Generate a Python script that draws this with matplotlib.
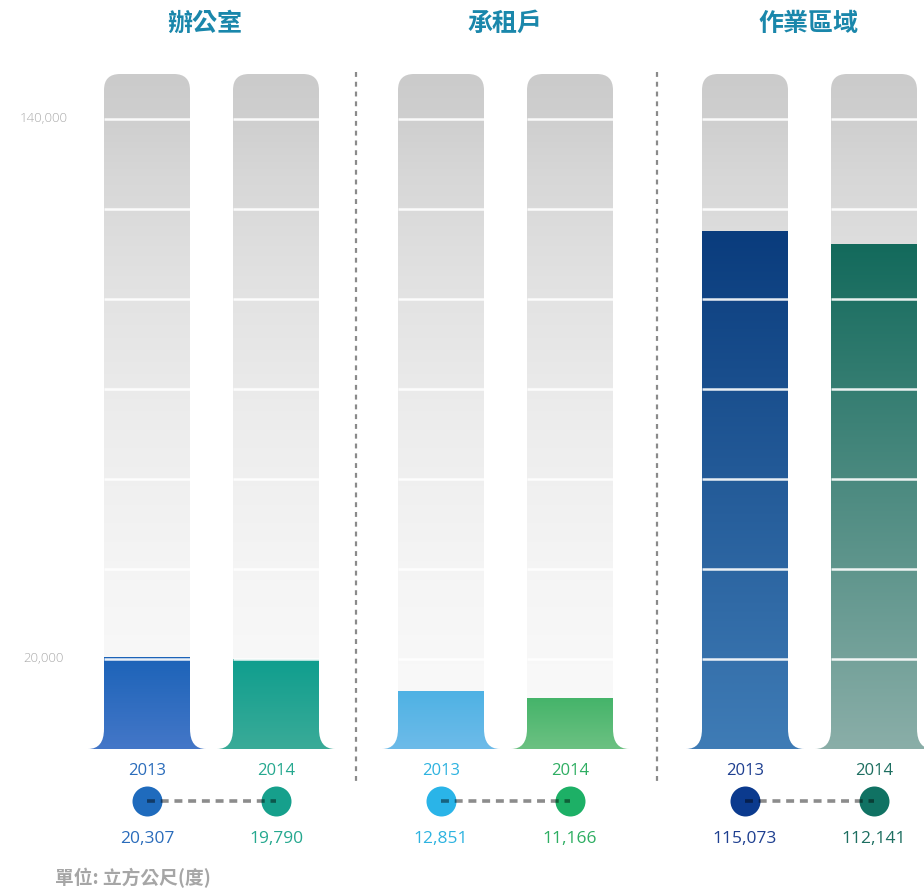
import numpy as np
import matplotlib
matplotlib.use("Agg")
import matplotlib.pyplot as plt
from matplotlib.path import Path
from matplotlib.patches import PathPatch
from matplotlib.colors import LinearSegmentedColormap

plt.rcParams['font.family'] = ['Noto Sans CJK TC', 'DejaVu Sans']

# ---- data ----
groups = ["辦公室", "承租戶", "作業區域"]
years = ["2013", "2014"]
values_2013 = [20307, 12851, 115073]
values_2014 = [19790, 11166, 112141]
axis_ticks = [140000, 20000]
unit_label = "單位: 立方公尺(度)"

# ---- styling ----
title_color = "#1a87ab"
bar_top = [["#1c63b8", "#0f9e8e"], ["#4fb2e4", "#45b46a"], ["#0a3c7d", "#136a5c"]]
bar_bot = [["#4477c8", "#3aab98"], ["#6dbbe9", "#6cc182"], ["#3f7cb6", "#8aaea8"]]
dot_col = [["#1f6bbd", "#16a08c"], ["#2ab4e8", "#1db066"], ["#0b3a8e", "#107263"]]
text_col = [["#2a6cbb", "#25a88f"], ["#2eb3e0", "#2eae62"], ["#1e3f90", "#1d6e60"]]
num_font = ["Open Sans", "DejaVu Sans"]

W, H = 924, 893
fig = plt.figure(figsize=(W / 100, H / 100), dpi=100)
ax = fig.add_axes([0, 0, 1, 1])
ax.set_axis_off()

# vertical scale: zero at pixel row 749, 140,000 at row 119
vpp = 140000 / 630.0          # value per pixel
y_bottom = -(H - 749) * vpp
y_top = 749 * vpp

tube_max = 150000
bar_w = 86
flare_w, flare_h = 16, 20 * vpp
rad_x, rad_y = 16, 16 * vpp
centers = [[147, 276], [441, 570], [745, 874]]
group_centers = [205, 505, 808]


def tube_path(xc, top):
    x0, x1 = xc - bar_w / 2, xc + bar_w / 2
    verts = [
        (x0 - flare_w, 0), (x0, 0), (x0, flare_h),
        (x0, top - rad_y), (x0, top), (x0 + rad_x, top),
        (x1 - rad_x, top), (x1, top), (x1, top - rad_y),
        (x1, flare_h), (x1, 0), (x1 + flare_w, 0),
        (x0 - flare_w, 0),
    ]
    codes = [Path.MOVETO, Path.CURVE3, Path.CURVE3,
             Path.LINETO, Path.CURVE3, Path.CURVE3,
             Path.LINETO, Path.CURVE3, Path.CURVE3,
             Path.LINETO, Path.CURVE3, Path.CURVE3,
             Path.CLOSEPOLY]
    return Path(verts, codes)


gray_cmap = LinearSegmentedColormap.from_list(
    "tube", [(0.0, "#fbfbfb"), (0.25, "#f5f5f5"), (0.5, "#ececec"),
             (0.7, "#e1e1e1"), (0.85, "#d7d7d7"), (0.93, "#cfcfcf"),
             (1.0, "#cbcbcb")])
grad = np.linspace(0, 1, 256).reshape(-1, 1)

all_vals = [values_2013, values_2014]
for g in range(3):
    for k in range(2):
        xc = centers[g][k]
        val = all_vals[k][g]
        patch = PathPatch(tube_path(xc, tube_max), facecolor="none",
                          edgecolor="none", transform=ax.transData)
        ax.add_patch(patch)
        ext_x = (xc - bar_w / 2 - flare_w, xc + bar_w / 2 + flare_w)
        im = ax.imshow(grad, extent=(*ext_x, 0, tube_max), origin="lower",
                       cmap=gray_cmap, aspect="auto",
                       interpolation="bilinear", zorder=1)
        im.set_clip_path(patch)
        # filled portion up to the value
        cmap = LinearSegmentedColormap.from_list(
            "fill", [bar_bot[g][k], bar_top[g][k]])
        im2 = ax.imshow(grad, extent=(*ext_x, 0, val), origin="lower",
                        cmap=cmap, aspect="auto",
                        interpolation="bilinear", zorder=2)
        im2.set_clip_path(patch)
        # white scale lines across the tube
        for yv in range(20000, 140001, 20000):
            ax.plot([xc - bar_w / 2, xc + bar_w / 2], [yv, yv],
                    color="white", lw=1.8, alpha=0.9, zorder=3,
                    solid_capstyle="butt")

ax.set_xlim(0, W)
ax.set_ylim(y_bottom, y_top)

# value labels on the left
for t in axis_ticks:
    ax.text(44, t, f"{t:,}", ha="center", va="center", fontsize=9.5,
            color="#ababab", family=num_font, fontweight="light")

# group titles
for g in range(3):
    ax.text(group_centers[g], y_top - 24 * vpp, groups[g], ha="center",
            va="center", fontsize=18, fontweight="bold", color=title_color)

# dashed separators
for xs in [356, 657]:
    ax.plot([xs, xs], [y_top - 72 * vpp, y_top - 785 * vpp], color="#8a8a8a",
            lw=1.6, dashes=(2.2, 2.2), zorder=1)

# year labels, dots and values
row_year = y_top - 771 * vpp
row_dot = y_top - 801 * vpp
row_val = y_top - 839 * vpp
for g in range(3):
    ax.plot([centers[g][0], centers[g][1]], [row_dot, row_dot], color="black",
            alpha=0.45, lw=2.6, dashes=(2.2, 1.6), zorder=6)
    for k in range(2):
        xc = centers[g][k]
        ax.text(xc, row_year, years[k], ha="center", va="center", fontsize=12,
                color=text_col[g][k], family=num_font)
        ax.scatter([xc], [row_dot], s=(30 * 0.72) ** 2, color=dot_col[g][k],
                   zorder=5, linewidths=0)
        ax.text(xc, row_val, f"{all_vals[k][g]:,}", ha="center", va="center",
                fontsize=12.5, color=text_col[g][k], family=num_font)

ax.text(55, y_top - 878 * vpp, unit_label, ha="left", va="center",
        fontsize=13.5, color="#a6a6a6", fontweight="bold")

fig.savefig("out.png", dpi=100)
